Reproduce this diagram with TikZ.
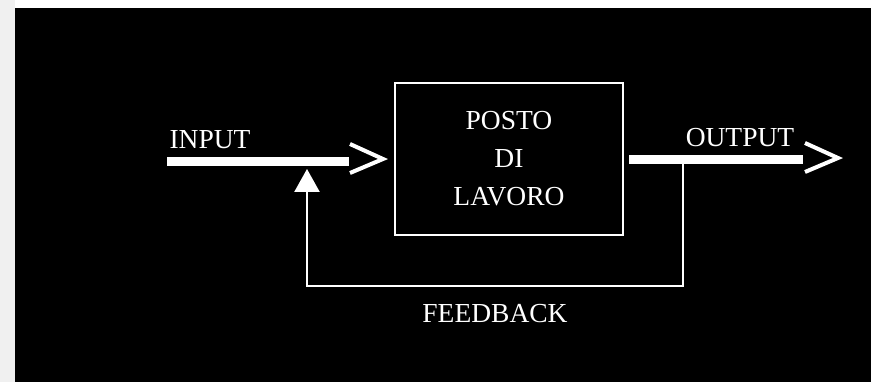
\documentclass[tikz,border=0pt]{standalone}
\usepackage{fontspec}
\setmainfont{Liberation Serif}
\usetikzlibrary{arrows.meta}
\begin{document}
\begin{tikzpicture}[x=1pt,y=1pt,
  label text/.style={text=white,font=\fontsize{27.5}{38}\selectfont,inner sep=0pt},
  flowbar/.style={white,line width=9pt},
  chevron/.style={white,line width=4pt,line join=miter},
  feedline/.style={white,line width=2.4pt,-{Triangle[length=23pt,width=25pt]}},
  workbox/.style={draw=white,line width=2.4pt,minimum width=228pt,minimum height=152pt,
    text=white,align=center,font=\fontsize{27.5}{38}\selectfont}]
  % page: light margins and black panel
  \useasboundingbox (0,0) rectangle (871,382);
  \fill[black!6] (0,0) rectangle (871,382);
  \fill[white] (15,374) rectangle (871,382);
  \fill[black] (15,0) rectangle (871,374);

  % the work station block
  \node[workbox] (box) at (509,223) {POSTO\\DI\\LAVORO};

  % labels
  \node[label text,anchor=base] (inlabel) at (210,233) {INPUT};
  \node[label text,anchor=base] (outlabel) at (740,235) {OUTPUT};
  \node[label text,anchor=base] (fblabel) at (495,59) {FEEDBACK};

  % input flow
  \coordinate (inA) at (167,220.5);
  \coordinate (inB) at (349,220.5);
  \draw[flowbar] (inA) -- (inB);
  \draw[chevron] (350,238) -- (383,223) -- (350,209);

  % output flow
  \coordinate (outA) at (629,222.5);
  \coordinate (outB) at (803,222.5);
  \draw[flowbar] (outA) -- (outB);
  \draw[chevron] (805,239) -- (838,224) -- (805,210);

  % feedback loop
  \coordinate (fbStart) at (683,218);
  \coordinate (fbRight) at (683,96);
  \coordinate (fbLeft) at (307,96);
  \coordinate (fbEnd) at (307,213);
  \draw[feedline] (fbStart) -- (fbRight) -- (fbLeft) -- (fbEnd);
\end{tikzpicture}
\end{document}
